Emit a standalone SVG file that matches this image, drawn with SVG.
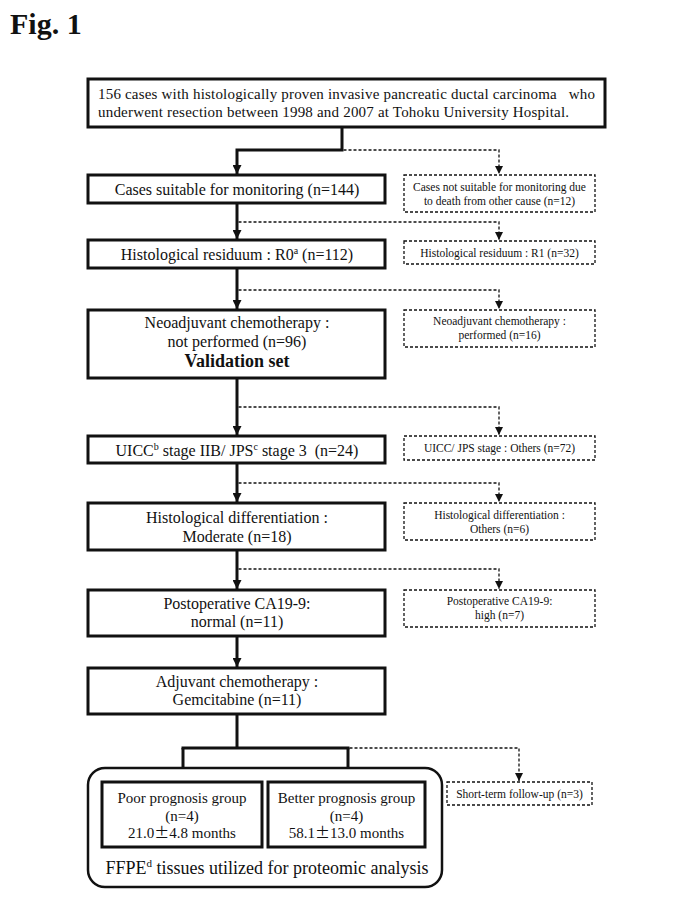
<svg xmlns="http://www.w3.org/2000/svg" width="685" height="913" viewBox="0 0 685 913">
<defs>
<style>
text{font-family:"Liberation Serif","Times New Roman",serif;fill:#111;}
.t{font-size:16px;text-anchor:middle;}
.s{font-size:11.5px;text-anchor:middle;}
.m{font-size:15px;text-anchor:middle;}
.pm{font-family:"Noto Sans CJK JP","Noto Sans",sans-serif;}
.box{fill:#fff;stroke:#111;stroke-width:3;}
.dbox{fill:#fff;stroke:#111;stroke-width:1.3;stroke-dasharray:3 2;}
.sol{fill:none;stroke:#111;stroke-width:3;}
.dsh{fill:none;stroke:#111;stroke-width:1.3;stroke-dasharray:3 2;}
.sup{font-size:10px;}
</style>
<marker id="ah" viewBox="0 0 10 10" refX="10" refY="5" markerWidth="9" markerHeight="9" markerUnits="userSpaceOnUse" orient="auto"><path d="M0,0 L10,5 L0,10 z" fill="#111"/></marker>
<marker id="ahd" viewBox="0 0 10 10" refX="10" refY="5" markerWidth="8" markerHeight="8" markerUnits="userSpaceOnUse" orient="auto"><path d="M0,0 L10,5 L0,10 z" fill="#111"/></marker>
</defs>
<rect width="685" height="913" fill="#fff"/>
<text x="10" y="34" style="font-size:30px;font-weight:bold;">Fig. 1</text>

<g id="connectors">
<path class="sol" d="M342,127 V150 H237 V174" marker-end="url(#ah)"/>
<path class="sol" d="M237,203 V239" marker-end="url(#ah)"/>
<path class="sol" d="M237,268 V309" marker-end="url(#ah)"/>
<path class="sol" d="M237,378 V435" marker-end="url(#ah)"/>
<path class="sol" d="M237,463 V502" marker-end="url(#ah)"/>
<path class="sol" d="M237,550 V589" marker-end="url(#ah)"/>
<path class="sol" d="M237,636 V667" marker-end="url(#ah)"/>
<path class="sol" d="M237,714 V748"/>
<path class="sol" d="M181.5,748 H349.5"/>
<path class="sol" d="M183,748 V781" marker-end="url(#ah)"/>
<path class="sol" d="M348,748 V781" marker-end="url(#ah)"/>
<path class="dsh" d="M343.5,150 H499 V174" marker-end="url(#ahd)"/>
<path class="dsh" d="M238.5,222 H499 V240" marker-end="url(#ahd)"/>
<path class="dsh" d="M238.5,290 H499 V309" marker-end="url(#ahd)"/>
<path class="dsh" d="M238.5,407 H499 V435" marker-end="url(#ahd)"/>
<path class="dsh" d="M238.5,483 H499 V502" marker-end="url(#ahd)"/>
<path class="dsh" d="M238.5,569 H499 V589" marker-end="url(#ahd)"/>
<path class="dsh" d="M349.5,748 H519 V781" marker-end="url(#ahd)"/>
</g>

<g id="start">
<rect class="box" x="88" y="79" width="517" height="48"/>
<text x="98" y="99" style="font-size:15px;white-space:pre;" textLength="497" lengthAdjust="spacing" xml:space="preserve">156 cases with histologically proven invasive pancreatic ductal carcinoma   who</text>
<text x="98" y="117" style="font-size:15px;" textLength="471" lengthAdjust="spacing">underwent resection between 1998 and 2007 at Tohoku University Hospital.</text>
</g>

<g id="suitable">
<rect class="box" x="88" y="175" width="297" height="28"/>
<text class="t" x="237" y="194.5">Cases suitable for monitoring (n=144)</text>
</g>
<g id="not-suitable">
<rect class="dbox" x="404" y="175" width="191" height="37"/>
<text class="s" x="499.5" y="191">Cases not suitable for monitoring due</text>
<text class="s" x="499.5" y="205">to death from other cause (n=12)</text>
</g>

<g id="r0">
<rect class="box" x="88" y="240" width="297" height="28"/>
<text class="t" x="237" y="259.5">Histological residuum : R0<tspan class="sup" dy="-6">a</tspan><tspan dy="6"> (n=112)</tspan></text>
</g>
<g id="r1">
<rect class="dbox" x="404" y="241" width="191" height="23"/>
<text class="s" x="499.5" y="256.5">Histological residuum : R1 (n=32)</text>
</g>

<g id="neo-not">
<rect class="box" x="88" y="310" width="297" height="68"/>
<text class="t" x="237" y="328">Neoadjuvant chemotherapy :</text>
<text class="t" x="237" y="347">not performed (n=96)</text>
<text class="t" x="237" y="367" style="font-size:18px;font-weight:bold;">Validation set</text>
</g>
<g id="neo-done">
<rect class="dbox" x="404" y="310" width="191" height="37"/>
<text class="s" x="499.5" y="325">Neoadjuvant chemotherapy :</text>
<text class="s" x="499.5" y="339">performed (n=16)</text>
</g>

<g id="uicc">
<rect class="box" x="88" y="436" width="297" height="27"/>
<text class="t" x="237" y="455.5" style="white-space:pre;" xml:space="preserve">UICC<tspan class="sup" dy="-6">b</tspan><tspan dy="6"> stage IIB/ JPS</tspan><tspan class="sup" dy="-6">c</tspan><tspan dy="6"> stage 3  (n=24)</tspan></text>
</g>
<g id="uicc-others">
<rect class="dbox" x="404" y="436" width="191" height="24"/>
<text class="s" x="499.5" y="452">UICC/ JPS stage : Others (n=72)</text>
</g>

<g id="diff">
<rect class="box" x="88" y="503" width="297" height="47"/>
<text class="t" x="237" y="523">Histological differentiation :</text>
<text class="t" x="237" y="542">Moderate (n=18)</text>
</g>
<g id="diff-others">
<rect class="dbox" x="404" y="503" width="191" height="37"/>
<text class="s" x="499.5" y="519">Histological differentiation :</text>
<text class="s" x="499.5" y="533">Others (n=6)</text>
</g>

<g id="ca199">
<rect class="box" x="88" y="590" width="297" height="46"/>
<text class="t" x="237" y="609">Postoperative CA19-9:</text>
<text class="t" x="237" y="627">normal (n=11)</text>
</g>
<g id="ca199-high">
<rect class="dbox" x="404" y="590" width="191" height="37"/>
<text class="s" x="499.5" y="605">Postoperative CA19-9:</text>
<text class="s" x="499.5" y="619">high (n=7)</text>
</g>

<g id="adjuvant">
<rect class="box" x="88" y="668" width="297" height="46"/>
<text class="t" x="237" y="687">Adjuvant chemotherapy :</text>
<text class="t" x="237" y="705">Gemcitabine (n=11)</text>
</g>

<g id="ffpe">
<rect x="88" y="768" width="354" height="119" rx="17" ry="17" fill="#fff" stroke="#111" stroke-width="2.5"/>
<text x="267" y="874" style="font-size:18px;text-anchor:middle;">FFPE<tspan style="font-size:11px;" dy="-7">d</tspan><tspan dy="7"> tissues utilized for proteomic analysis</tspan></text>
</g>
<g id="poor">
<rect class="box" x="102" y="782" width="160" height="65"/>
<text class="m" x="182" y="803">Poor prognosis group</text>
<text class="m" x="182" y="821">(n=4)</text>
<text class="m" x="182" y="838">21.0<tspan class="pm">±</tspan>4.8 months</text>
</g>
<g id="better">
<rect class="box" x="268" y="782" width="157" height="65"/>
<text class="m" x="346.5" y="803">Better prognosis group</text>
<text class="m" x="346.5" y="821">(n=4)</text>
<text class="m" x="346.5" y="838">58.1<tspan class="pm">±</tspan>13.0 months</text>
</g>
<g id="short-term">
<rect class="dbox" x="447" y="782" width="145" height="23"/>
<text class="s" x="519.5" y="797.5">Short-term follow-up (n=3)</text>
</g>
</svg>
